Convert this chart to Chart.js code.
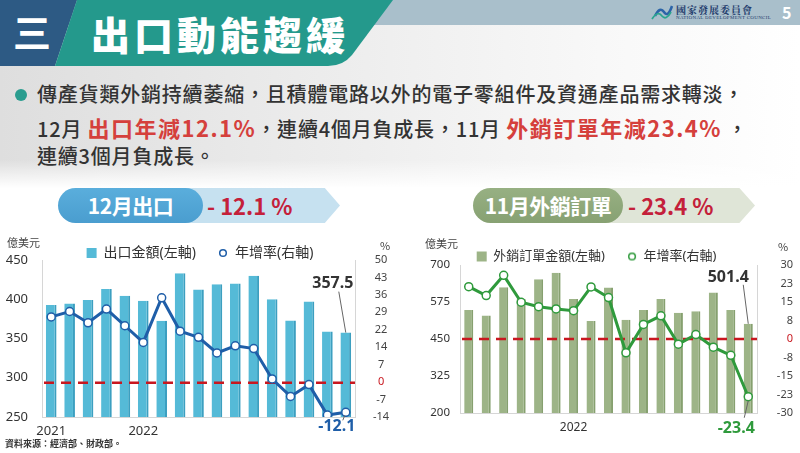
<!DOCTYPE html>
<html lang="zh-Hant">
<head>
<meta charset="utf-8">
<script src="https://cdn.jsdelivr.net/npm/chart.js@4.4.1/dist/chart.umd.min.js"></script>
<style>
  html, body { margin: 0; padding: 0; }
  body {
    width: 800px; height: 453px; position: relative; overflow: hidden; background: #fff;
    font-family: 'Noto Sans CJK TC', 'Noto Sans', sans-serif; color: #333;
  }
  .abs { position: absolute; white-space: nowrap; }
  #bg {
    left: 0; top: 0; width: 800px; height: 190px;
    background: linear-gradient(to bottom, rgba(255,255,255,0) 0, rgba(255,255,255,0) 160px, #fff 188px),
                linear-gradient(to right, #dedede 0, #ececec 40%, #f8f8f8 75%, #fff 100%);
  }
  .line { font-size: 20px; font-weight: 500; line-height: 28px; color: #333; letter-spacing: 0.8px; }
  .red { color: #d5403c; font-weight: 700; font-size: 22px; letter-spacing: 1.5px; }
  .pill { height: 35px; border-radius: 18px; color: #fff; font-weight: 700; font-size: 21px;
          line-height: 35px; text-align: center; letter-spacing: -0.5px; }
  .arrow { height: 35px; clip-path: polygon(0 0, 92% 0, 100% 50%, 92% 100%, 0 100%); }
  .pct { font-size: 22px; font-weight: 700; color: #c4203a; line-height: 35px; }
  .unit { font-size: 11px; color: #444; }
</style>
</head>
<body>
<div id="bg" class="abs"></div>

<svg class="abs" style="left:0;top:0" width="800" height="70">
  <rect x="0" y="0" width="800" height="25" fill="#a9bfcb"/>
  <polygon points="0,0 77,0 55,66 0,66" fill="#2d5a84"/>
  <path d="M77,0 L393,0 L352,55 Q343,66 328,66 L55,66 Z" fill="#24998c"/>
  <path d="M655,16 Q660,6 664,12 Q668,18 672,6" stroke="#2b64a8" stroke-width="2.5" fill="none"/>
  <path d="M652,19 Q658,10 662,16 Q666,21 671,12" stroke="#2aa58f" stroke-width="1.8" fill="none"/>
</svg>
<div class="abs" style="left:13px;top:9px;font-size:38px;font-weight:700;color:#fff;line-height:44px">三</div>
<div class="abs" style="left:91px;top:10px;font-size:39px;font-weight:900;color:#fff;line-height:46px;letter-spacing:4px">出口動能趨緩</div>
<div class="abs" style="left:676px;top:4px;font-size:10px;font-weight:700;color:#1f3b6b;line-height:11px;letter-spacing:1px;font-family:'Noto Serif CJK TC','Noto Sans CJK TC',serif">國家發展委員會</div>
<div class="abs" style="left:676px;top:15px;font-size:5px;color:#1f3b6b;line-height:6px;letter-spacing:0.3px;font-family:'Liberation Serif',serif">NATIONAL DEVELOPMENT COUNCIL</div>
<div class="abs" style="left:782px;top:2px;font-size:16px;font-weight:700;color:#fff;line-height:20px">5</div>

<div class="abs" style="left:15px;top:89px;width:12px;height:12px;border-radius:6px;background:#2a9d8f"></div>
<div class="abs line" style="left:37px;top:80px">傳產貨類外銷持續萎縮，且積體電路以外的電子零組件及資通產品需求轉淡，</div>
<div class="abs line" style="left:37px;top:113px">12月 <span class="red">出口年減12.1%</span>，連續4個月負成長，11月 <span class="red">外銷訂單年減23.4%</span> ，</div>
<div class="abs line" style="left:37px;top:142px">連續3個月負成長。</div>

<div class="abs arrow" style="left:150px;top:188px;width:190px;background:#c6e1f0"></div>
<div class="abs pill" style="left:58px;top:188px;width:145px;background:linear-gradient(#5aaedc,#4a9dcf)">12月出口</div>
<div class="abs pct" style="left:207px;top:188px">- 12.1 %</div>

<div class="abs arrow" style="left:560px;top:188px;width:195px;background:#dfe5d7"></div>
<div class="abs pill" style="left:473px;top:188px;width:150px;background:linear-gradient(#97b083,#87a172)">11月外銷訂單</div>
<div class="abs pct" style="left:628px;top:188px">- 23.4 %</div>

<canvas id="exportChart" class="abs" style="left:0;top:224px" width="400" height="221"></canvas>
<canvas id="orderChart" class="abs" style="left:400px;top:228px" width="400" height="215"></canvas>

<div class="abs unit" style="left:7px;top:234px">億美元</div>
<div class="abs unit" style="left:380px;top:237px">%</div>
<div class="abs unit" style="left:425px;top:235px">億美元</div>
<div class="abs unit" style="left:778px;top:238px">%</div>
<div class="abs" style="left:5px;top:437px;font-size:9px;font-weight:700;color:#333">資料來源：經濟部、財政部。</div>

<script>
// 出口 (2021/08 - 2022/12)
const exportMonths = ['2021-08','2021-09','2021-10','2021-11','2021-12','2022-01','2022-02','2022-03','2022-04',
                      '2022-05','2022-06','2022-07','2022-08','2022-09','2022-10','2022-11','2022-12'];
const exportValues = [392.6, 394.7, 399, 413, 404.5, 398, 372.5, 433, 412.5, 419, 420, 430, 400, 373, 397, 359, 357.5];
const exportGrowth = [26.8, 29.0, 24.4, 30.0, 23.2, 16.4, 34.6, 21.0, 18.5, 12.1, 15.0, 13.9, 1.5, -5.6, -0.8, -13.2, -12.1];
const exportRightTicks = ['-14', '-7', '0', '7', '14', '22', '29', '36', '43', '50'];

// 外銷訂單 (2021/07 - 2022/11)
const orderMonths = ['2021-07','2021-08','2021-09','2021-10','2021-11','2021-12','2022-01','2022-02','2022-03',
                     '2022-04','2022-05','2022-06','2022-07','2022-08','2022-09','2022-10','2022-11'];
const orderValues = [548, 529, 625, 585, 652, 674, 585, 511, 624, 515, 548, 585, 539, 544, 607, 548, 501.4];
const orderGrowth = [21.2, 17.6, 25.8, 14.9, 13.1, 12.2, 11.5, 21.1, 16.8, -5.6, 5.9, 9.4, -2.1, 1.8, -3.3, -6.6, -23.4];
const orderRightTicks = ['-30', '-23', '-15', '-8', '0', '8', '15', '23', '30'];

const FONT = "'Noto Sans', 'Noto Sans CJK TC', sans-serif";

// small open circle used as the line's legend marker
function legendDot(color) {
    const c = document.createElement('canvas');
    c.width = 10;
    c.height = 10;
    const g = c.getContext('2d');
    g.beginPath();
    g.arc(5, 5, 3.3, 0, Math.PI * 2);
    g.fillStyle = '#fff';
    g.fill();
    g.lineWidth = 1.5;
    g.strokeStyle = color;
    g.stroke();
    return c;
}

// fixed legend height so the plot area lands where it should
const legendHeight = {
    id: 'legendHeight',
    beforeInit(chart, args, opts) {
        const fit = chart.legend.fit;
        chart.legend.fit = function() {
            fit.call(this);
            this.height = opts.h;
        };
    }
};

// red dashed zero line on the right axis, above the bars
const zeroLine = {
    id: 'zeroLine',
    afterDatasetDraw(chart, args) {
        if (args.index !== 0) return;
        const {ctx, chartArea} = chart;
        const y = chart.scales.y1.getPixelForValue(0);
        ctx.save();
        ctx.strokeStyle = '#c8171f';
        ctx.lineWidth = 2.5;
        ctx.setLineDash([10, 7]);
        ctx.beginPath();
        ctx.moveTo(chartArea.left + 2, y);
        ctx.lineTo(chartArea.right, y);
        ctx.stroke();
        ctx.restore();
    }
};

// labels for the latest bar and point
const lastLabels = {
    id: 'lastLabels',
    afterDraw(chart, args, o) {
        const {ctx} = chart;
        const bar = chart.getDatasetMeta(0).data.at(-1);
        const pt = chart.getDatasetMeta(1).data.at(-1);
        const barVal = chart.data.datasets[0].data.at(-1);
        const ptVal = chart.data.datasets[1].data.at(-1);
        ctx.save();
        ctx.strokeStyle = '#666';
        ctx.lineWidth = 1;
        ctx.beginPath();
        ctx.moveTo(bar.x + o.barLead[0], bar.y + o.barLead[1]);
        ctx.lineTo(bar.x, bar.y);
        ctx.moveTo(pt.x + o.ptLead[0], pt.y + o.ptLead[1]);
        ctx.lineTo(pt.x + o.ptLead[2], pt.y + o.ptLead[3]);
        ctx.stroke();
        ctx.font = 'bold 16px ' + FONT;
        ctx.textAlign = 'center';
        ctx.textBaseline = 'middle';
        ctx.fillStyle = '#333';
        ctx.fillText(barVal.toFixed(1), bar.x + o.barText[0], bar.y + o.barText[1]);
        ctx.fillStyle = o.ptColor;
        ctx.fillText(ptVal.toFixed(1), pt.x + o.ptText[0], pt.y + o.ptText[1]);
        ctx.restore();
    }
};

function makeChart(id, cfg) {
    const evenTicks = axis => {
        const n = cfg.rightTicks.length;
        axis.ticks = cfg.rightTicks.map((t, i) => ({value: cfg.rMin + i * (cfg.rMax - cfg.rMin) / (n - 1)}));
    };
    const dot = legendDot(cfg.lineColor);
    return new Chart(document.getElementById(id), {
        type: 'bar',
        data: {
            labels: cfg.months,
            datasets: [
                {
                    label: cfg.barLabel,
                    data: cfg.values,
                    backgroundColor: cfg.barColor,
                    borderColor: cfg.barEdge,
                    borderWidth: {right: 2},
                    borderSkipped: 'bottom',
                    barPercentage: cfg.barPct,
                    categoryPercentage: 1,
                    pointStyle: 'rect',
                    yAxisID: 'y',
                    order: 1
                },
                {
                    type: 'line',
                    label: '年增率(右軸)',
                    data: cfg.growth,
                    borderColor: cfg.lineColor,
                    borderWidth: 3,
                    pointRadius: 4,
                    pointBackgroundColor: '#fff',
                    pointBorderColor: cfg.lineColor,
                    pointBorderWidth: 1.5,
                    pointStyle: 'circle',
                    tension: 0,
                    yAxisID: 'y1',
                    order: 0
                }
            ]
        },
        options: {
            responsive: false,
            animation: false,
            devicePixelRatio: 1,
            layout: {padding: {left: 0, top: 0, bottom: 0, right: cfg.padRight}},
            plugins: {
                legend: {
                    position: 'top',
                    labels: {
                        usePointStyle: true,
                        boxWidth: 10,
                        boxHeight: 10,
                        padding: cfg.legendPad,
                        color: '#333',
                        font: {family: FONT, size: cfg.legendFont},
                        sort: (a, b) => a.datasetIndex - b.datasetIndex,
                        generateLabels: chart => {
                            const items = Chart.defaults.plugins.legend.labels.generateLabels(chart);
                            items.forEach(it => {
                                if (it.datasetIndex === 1) it.pointStyle = dot;
                                else { it.strokeStyle = cfg.barColor; it.lineWidth = 0; }
                            });
                            return items;
                        }
                    }
                },
                tooltip: {enabled: false},
                legendHeight: {h: cfg.legendH},
                lastLabels: cfg.labels
            },
            scales: {
                x: {
                    grid: {display: false, drawTicks: false},
                    border: {color: '#d6d6d6'},
                    afterFit: s => { s.height = cfg.xH; },
                    ticks: {
                        autoSkip: false,
                        maxRotation: 0,
                        padding: cfg.xPad,
                        color: '#333',
                        font: {family: FONT, size: cfg.xFont},
                        callback: (v, i) => cfg.xLabel(cfg.months[i], i)
                    }
                },
                y: {
                    position: 'left',
                    min: cfg.lMin,
                    max: cfg.lMax,
                    grid: {display: false, drawTicks: false},
                    border: {color: '#d6d6d6'},
                    afterFit: s => { s.width = cfg.lW; },
                    ticks: {
                        stepSize: cfg.lStep,
                        padding: cfg.lPad,
                        color: '#333',
                        font: {family: FONT, size: cfg.lFont}
                    }
                },
                y1: {
                    position: 'right',
                    min: cfg.rMin,
                    max: cfg.rMax,
                    grid: {display: false, drawTicks: false},
                    border: {color: '#d6d6d6'},
                    afterFit: s => { s.width = cfg.rW; },
                    afterBuildTicks: evenTicks,
                    ticks: {
                        padding: cfg.rPad,
                        crossAlign: cfg.rAlign,
                        color: c => (cfg.rightTicks[c.index] === '0' ? '#c8171f' : '#444'),
                        font: {family: FONT, size: 11},
                        callback: (v, i) => cfg.rightTicks[i]
                    }
                }
            }
        },
        plugins: [legendHeight, zeroLine, lastLabels]
    });
}

makeChart('exportChart', {
    months: exportMonths, values: exportValues, growth: exportGrowth, rightTicks: exportRightTicks,
    barLabel: '出口金額(左軸)', barColor: '#55bad7', barEdge: '#3c9fc0', barPct: 0.58,
    lineColor: '#1f5ea8',
    lMin: 250, lMax: 450, lStep: 50, lW: 42, lPad: 14, lFont: 13,
    rMin: -14, rMax: 50, rW: 45, rPad: 18, rAlign: 'center', padRight: 0,
    xH: 28, xPad: 6, xFont: 13,
    xLabel: (m, i) => (i === 0 || m.endsWith('-01')) ? m.slice(0, 4) : '',
    legendH: 36, legendPad: 22, legendFont: 14,
    labels: {barLead: [-7, -41], barText: [-13, -49], ptLead: [-1, 3, -3, 8], ptText: [-9, 14], ptColor: '#1f5ea8'}
});

makeChart('orderChart', {
    months: orderMonths, values: orderValues, growth: orderGrowth, rightTicks: orderRightTicks,
    barLabel: '外銷訂單金額(左軸)', barColor: '#9db487', barEdge: '#86a06f', barPct: 0.52,
    lineColor: '#2f9a3c',
    lMin: 200, lMax: 700, lStep: 125, lW: 60, lPad: 10, lFont: 11.5,
    rMin: -30, rMax: 30, rW: 36, rPad: 6, rAlign: 'far', padRight: 7,
    xH: 30, xPad: 7, xFont: 12,
    xLabel: m => m.endsWith('-01') ? m.slice(0, 4) : '',
    legendH: 37, legendPad: 22, legendFont: 13,
    labels: {barLead: [-5, -39], barText: [-20, -46], ptLead: [-4, 21, 0, 4], ptText: [-12, 32], ptColor: '#2f9a3c'}
});
</script>
</body>
</html>
